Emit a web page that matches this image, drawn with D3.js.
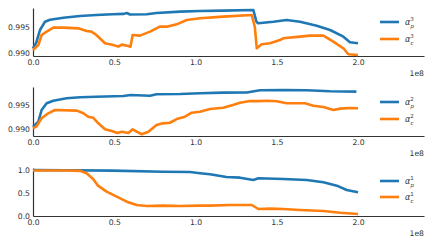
<!doctype html>
<html>
<head>
<script src="https://d3js.org/d3.v7.min.js"></script>
<style>
  body { margin: 0; background: #fff; }
  text { font-family: "DejaVu Sans", sans-serif; fill: #333; }
</style>
</head>
<body>
<svg width="432" height="247"></svg>
<script>
// x values in units of 1e8
var xP3 = [0, 0.02, 0.043, 0.074, 0.105, 0.187, 0.29, 0.39, 0.49, 0.56, 0.577, 0.597, 0.70, 0.76, 0.905, 1.028, 1.17, 1.356, 1.375, 1.385, 1.479, 1.56, 1.643, 1.746, 1.828, 1.91, 1.95, 2.0];
var p3  = [0.9909, 0.9920, 0.99442, 0.99602, 0.9964, 0.99679, 0.99712, 0.9973, 0.99744, 0.99752, 0.99769, 0.9974, 0.99744, 0.99769, 0.99795, 0.99808, 0.99815, 0.99827, 0.9960, 0.99571, 0.99602, 0.99635, 0.99602, 0.99525, 0.99442, 0.99314, 0.99206, 0.99187];
var xC3 = [0, 0.033, 0.053, 0.084, 0.125, 0.187, 0.279, 0.33, 0.36, 0.39, 0.443, 0.494, 0.525, 0.546, 0.587, 0.60, 0.613, 0.658, 0.72, 0.78, 0.823, 0.884, 0.946, 1.028, 1.17, 1.346, 1.365, 1.377, 1.407, 1.458, 1.52, 1.54, 1.643, 1.705, 1.787, 1.848, 1.91, 1.94, 2.0];
var c3  = [0.99058, 0.99154, 0.99346, 0.9941, 0.99487, 0.99487, 0.99474, 0.99423, 0.9941, 0.99346, 0.99187, 0.99154, 0.99122, 0.99161, 0.99135, 0.99122, 0.99346, 0.99333, 0.9941, 0.99506, 0.99506, 0.99551, 0.99635, 0.99667, 0.99699, 0.99731, 0.9950, 0.9909, 0.99167, 0.99187, 0.9925, 0.99282, 0.99314, 0.99333, 0.99333, 0.99218, 0.9909, 0.98975, 0.98962];

var xP2 = [0, 0.033, 0.053, 0.084, 0.125, 0.207, 0.29, 0.39, 0.556, 0.6, 0.72, 0.76, 0.905, 1.028, 1.17, 1.315, 1.397, 1.54, 1.684, 1.828, 1.99];
var p2  = [0.99048, 0.99152, 0.99396, 0.99535, 0.9959, 0.99639, 0.9966, 0.99673, 0.99688, 0.99708, 0.99694, 0.99723, 0.99729, 0.99744, 0.99757, 0.99759, 0.99806, 0.99812, 0.99806, 0.99785, 0.99778];
var xC2 = [0, 0.02, 0.053, 0.094, 0.135, 0.27, 0.31, 0.34, 0.37, 0.402, 0.443, 0.484, 0.519, 0.546, 0.587, 0.613, 0.638, 0.669, 0.71, 0.76, 0.8, 0.843, 0.884, 0.935, 0.977, 1.028, 1.089, 1.17, 1.23, 1.274, 1.335, 1.387, 1.438, 1.5, 1.56, 1.62, 1.674, 1.725, 1.787, 1.848, 1.89, 1.95, 2.0];
var c2  = [0.99014, 0.99048, 0.99223, 0.99327, 0.99396, 0.99382, 0.99327, 0.99256, 0.99236, 0.99118, 0.98994, 0.98958, 0.98917, 0.98944, 0.98917, 0.98994, 0.98944, 0.9889, 0.98944, 0.99083, 0.99118, 0.9913, 0.99208, 0.99256, 0.9934, 0.9936, 0.99417, 0.99444, 0.995, 0.99548, 0.99583, 0.9958, 0.9959, 0.99577, 0.99535, 0.99535, 0.99535, 0.99486, 0.99458, 0.99396, 0.99424, 0.99438, 0.99431];

var xP1 = [0, 0.2, 0.49, 0.8, 0.966, 1.028, 1.089, 1.19, 1.274, 1.356, 1.387, 1.54, 1.684, 1.787, 1.87, 1.93, 2.0];
var p1  = [1.0, 0.995, 0.985, 0.963, 0.955, 0.928, 0.906, 0.848, 0.833, 0.783, 0.819, 0.804, 0.783, 0.732, 0.659, 0.565, 0.514];
var xC1 = [0, 0.2, 0.29, 0.33, 0.37, 0.40, 0.453, 0.515, 0.577, 0.638, 0.70, 0.8, 0.905, 1.028, 1.089, 1.21, 1.346, 1.387, 1.458, 1.54, 1.643, 1.787, 1.89, 2.0];
var c1  = [0.99, 0.99, 0.98, 0.928, 0.804, 0.659, 0.529, 0.42, 0.311, 0.239, 0.217, 0.225, 0.217, 0.225, 0.225, 0.239, 0.239, 0.152, 0.16, 0.152, 0.13, 0.109, 0.072, 0.043];

var xTicks = [0, 0.5, 1.0, 1.5, 2.0];

var panels = [
  { xp: xP3, p: p3, xc: xC3, c: c3, dom: [0.98942, 0.99865], top: 8, bot: 56, ticks: [0.990, 0.995], fmt: ".3f", sup: "3", legY: [22, 39] },
  { xp: xP2, p: p2, xc: xC2, c: c2, dom: [0.98854, 0.99875], top: 87, bot: 136, ticks: [0.990, 0.995], fmt: ".3f", sup: "2", legY: [102, 119] },
  { xp: xP1, p: p1, xc: xC1, c: c1, dom: [0, 1.043], top: 168, bot: 216, ticks: [0.0, 0.5, 1.0], fmt: ".1f", sup: "1", legY: [181, 197] }
];

var svg = d3.select("svg");
var left = 33, right = 424;
var x = d3.scaleLinear().domain([0, 2.406]).range([left, right]);
var blue = "#1f77b4", orange = "#ff7f0e";

panels.forEach(function(pn) {
  var y = d3.scaleLinear().domain(pn.dom).range([pn.bot, pn.top]);
  var g = svg.append("g");

  var xa = g.append("g")
    .attr("transform", "translate(0," + pn.bot + ")")
    .call(d3.axisBottom(x).tickValues(xTicks).tickFormat(d3.format(".1f")).tickSize(0).tickPadding(4));
  var ya = g.append("g")
    .attr("transform", "translate(" + left + ",0)")
    .call(d3.axisLeft(y).tickValues(pn.ticks).tickFormat(d3.format(pn.fmt)).tickSize(0).tickPadding(3));
  [xa, ya].forEach(function(a) {
    a.select(".domain").attr("stroke", "#333").attr("stroke-width", 1.2);
    a.selectAll("text").attr("font-size", "7.7px").attr("fill", "#333").attr("font-family", "DejaVu Sans");
  });

  g.append("text").attr("x", right).attr("y", pn.bot + 20).attr("text-anchor", "end")
    .attr("font-size", "7.7px").text("1e8");

  var line = d3.line().x(function(d) { return x(d[0]); }).y(function(d) { return y(d[1]); });
  var series = [
    { xs: pn.xp, ys: pn.p, col: blue, sub: "p" },
    { xs: pn.xc, ys: pn.c, col: orange, sub: "c" }
  ];
  series.forEach(function(s, i) {
    g.append("path")
      .datum(s.xs.map(function(v, k) { return [v, s.ys[k]]; }))
      .attr("d", line)
      .attr("fill", "none")
      .attr("stroke", s.col)
      .attr("stroke-width", 2.6)
      .attr("stroke-linejoin", "round");

    var ly = pn.legY[i];
    g.append("line").attr("x1", 380).attr("x2", 399).attr("y1", ly).attr("y2", ly)
      .attr("stroke", s.col).attr("stroke-width", 2.6);
    var t = g.append("text").attr("x", 405).attr("y", ly + 3).attr("font-size", "8px");
    t.append("tspan").attr("font-style", "italic").text("\u03b1");
    t.append("tspan").attr("font-size", "5.5px").attr("dy", -4).text(pn.sup);
    t.append("tspan").attr("font-size", "5.5px").attr("font-style", "italic").attr("dx", -3.3).attr("dy", 6.5).text(s.sub);
  });
});
</script>
</body>
</html>
